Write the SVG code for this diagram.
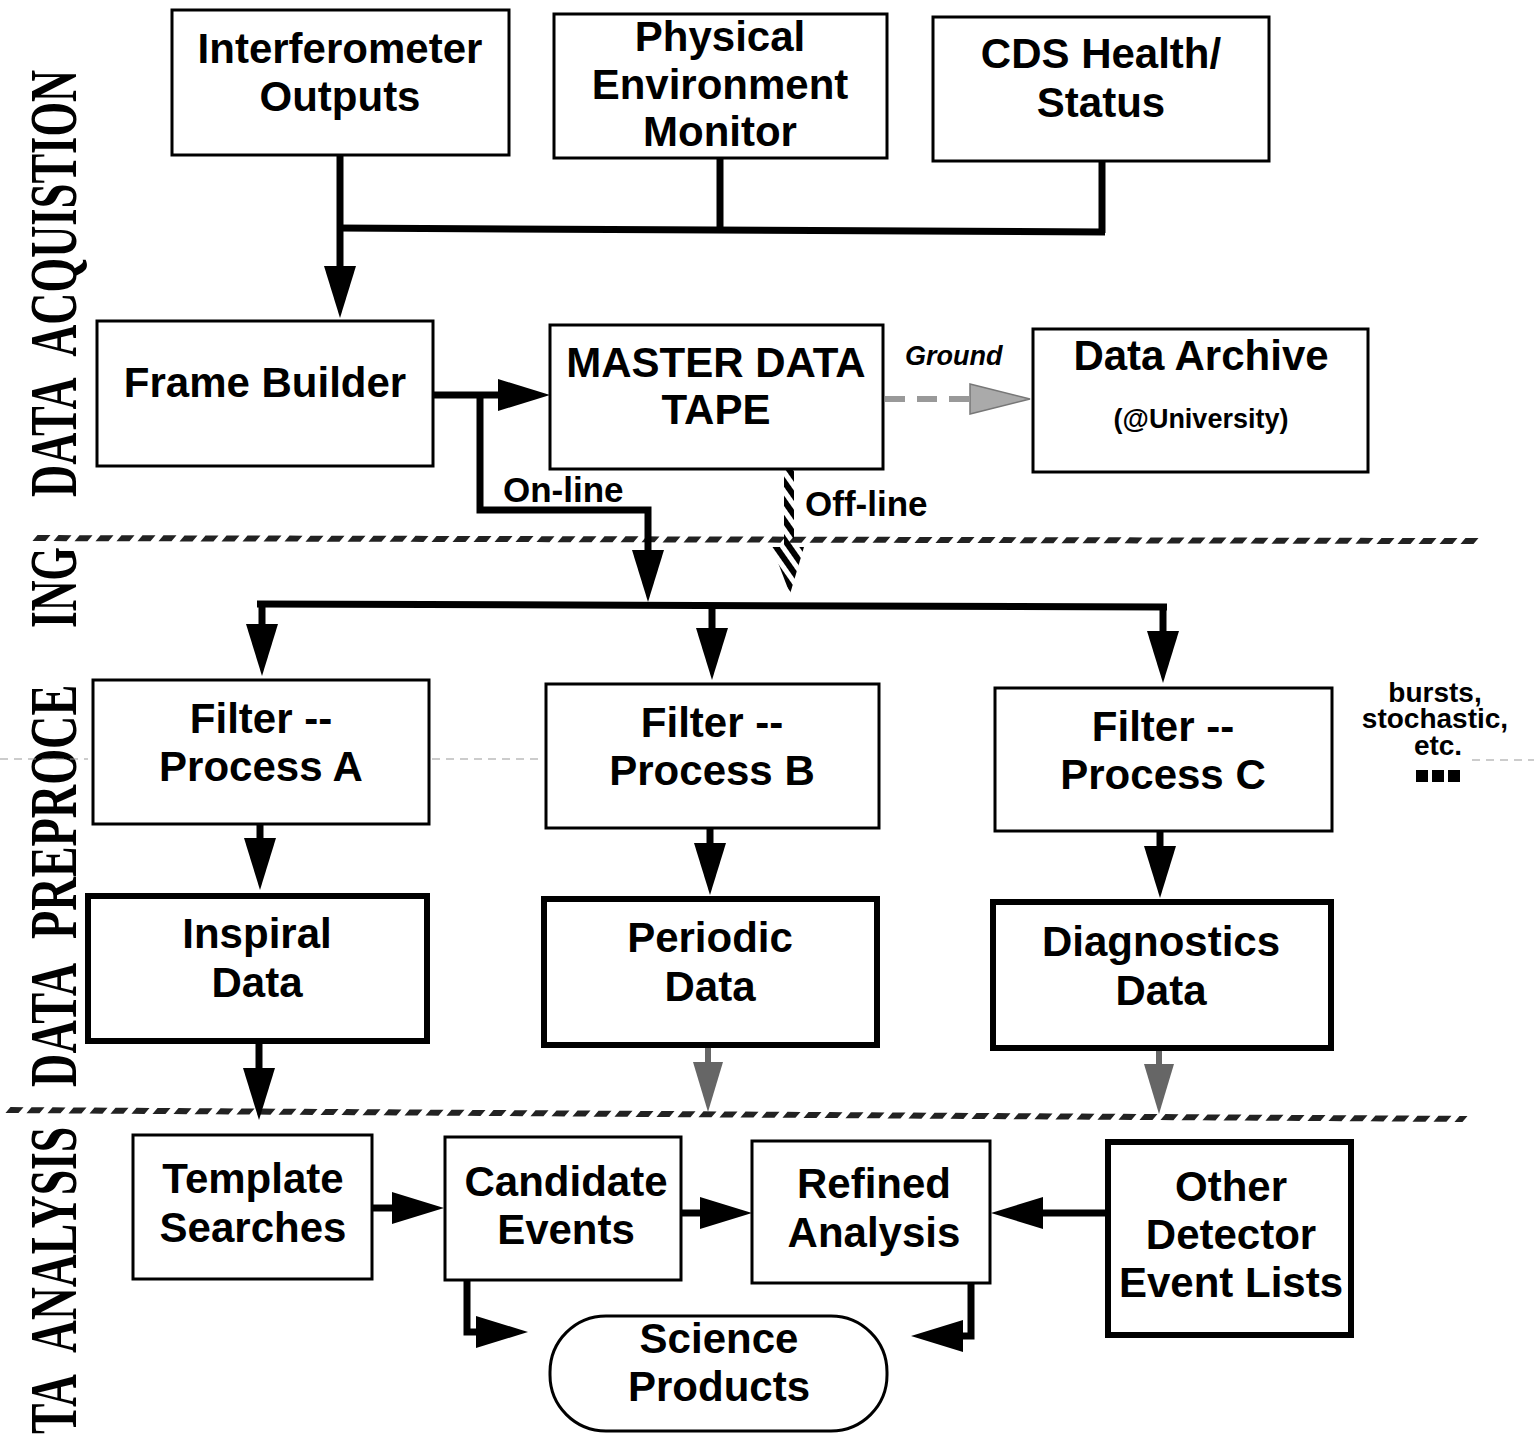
<svg xmlns="http://www.w3.org/2000/svg" width="1534" height="1434" viewBox="0 0 1534 1434">
  <style>
    .box { fill: #fff; stroke: #000; stroke-width: 3; }
    .thick { stroke-width: 6; }
    .lbl { font-family: "Liberation Sans", Arial, sans-serif; font-weight: bold; font-size: 42px; text-anchor: middle; fill: #000; }
    .small { font-family: "Liberation Sans", Arial, sans-serif; font-weight: bold; fill: #000; }
    .side { font-family: "Liberation Serif", "Times New Roman", serif; font-weight: bold; font-size: 68px; fill: #000; word-spacing: 22px; }
    .conn { fill: none; stroke: #000; stroke-width: 7; stroke-linejoin: miter; }
    .gconn { fill: none; stroke: #666; stroke-width: 6; }
    .sep { fill: none; stroke: #222; stroke-width: 6; stroke-dasharray: 13 8; }
    .fold { fill: none; stroke: #999; stroke-width: 1.2; stroke-dasharray: 8 6; }
  </style>
  <defs>
    <marker id="ah" markerUnits="userSpaceOnUse" markerWidth="52" markerHeight="34" refX="0" refY="16" orient="auto">
      <path d="M0,0 L52,16 L0,32 z" fill="#000"/>
    </marker>
    <marker id="ahg" markerUnits="userSpaceOnUse" markerWidth="50" markerHeight="32" refX="0" refY="15" orient="auto">
      <path d="M0,0 L50,15 L0,30 z" fill="#666"/>
    </marker>
    <pattern id="stripes" patternUnits="userSpaceOnUse" width="11" height="11" patternTransform="rotate(-35)">
      <rect x="0" y="0" width="6" height="11" fill="#000"/>
    </pattern>
    <clipPath id="clipPre">
      <rect x="0" y="676" width="100" height="420"/>
    </clipPath>
  </defs>

  <!-- section titles along the left margin -->
  <g id="section-titles">
    <text class="side" transform="translate(76,497) rotate(-90) scale(0.655,1)">DATA ACQUISTION</text>
    <text class="side" transform="translate(76,628) rotate(-90) scale(0.63,1)">ING</text>
    <g clip-path="url(#clipPre)">
      <text class="side" transform="translate(76,1087) rotate(-90) scale(0.68,1)">DATA PREPROCE</text>
    </g>
    <text class="side" transform="translate(76,1434) rotate(-90) scale(0.67,1)">TA ANALYSIS</text>
  </g>

  <!-- faint fold line across the preprocessing band -->
  <g id="fold-line">
    <line class="fold" x1="0" y1="759" x2="88" y2="759"/>
    <line class="fold" x1="100" y1="759" x2="158" y2="759"/>
    <line class="fold" x1="432" y1="759" x2="544" y2="759"/>
    <line class="fold" x1="836" y1="760" x2="876" y2="760"/>
    <line class="fold" x1="1472" y1="760" x2="1534" y2="760"/>
  </g>

  <!-- hatched section separators -->
  <g id="separators">
    <g transform="translate(0,538) rotate(0.12) skewX(-40)">
      <line class="sep" x1="35" y1="0" x2="1480" y2="0"/>
    </g>
    <g transform="translate(0,1110) rotate(0.35) skewX(-40)">
      <line class="sep" x1="8" y1="0" x2="1465" y2="0"/>
    </g>
  </g>

  <!-- connectors -->
  <g id="connectors">
    <path class="conn" d="M340,155 V266" marker-end="url(#ah)"/>
    <path class="conn" d="M720,158 V230"/>
    <path class="conn" d="M1102,161 V233"/>
    <path class="conn" d="M337,228 L1105,232"/>
    <path class="conn" d="M433,395 H498" marker-end="url(#ah)"/>
    <path class="conn" d="M480,395 V510 H648 V550" marker-end="url(#ah)"/>
    <path class="conn" d="M257,604 L1167,607"/>
    <path class="conn" d="M262,604 V624" marker-end="url(#ah)"/>
    <path class="conn" d="M712,606 V628" marker-end="url(#ah)"/>
    <path class="conn" d="M1163,607 V631" marker-end="url(#ah)"/>
    <path class="conn" d="M260,824 V838" marker-end="url(#ah)"/>
    <path class="conn" d="M710,828 V843" marker-end="url(#ah)"/>
    <path class="conn" d="M1160,832 V846" marker-end="url(#ah)"/>
    <path class="conn" d="M259,1041 V1068" marker-end="url(#ah)"/>
    <path class="gconn" d="M708,1045 V1062" marker-end="url(#ahg)"/>
    <path class="gconn" d="M1159,1048 V1064" marker-end="url(#ahg)"/>
    <path class="conn" d="M372,1208 H392" marker-end="url(#ah)"/>
    <path class="conn" d="M681,1213 H700" marker-end="url(#ah)"/>
    <path class="conn" d="M1107,1213 H1043" marker-end="url(#ah)"/>
    <path class="conn" d="M467,1280 V1332 H476" marker-end="url(#ah)"/>
    <path class="conn" d="M971,1283 V1336 H963" marker-end="url(#ah)"/>
    <!-- ground shipment to archive -->
    <path d="M885,399 H970" fill="none" stroke="#999" stroke-width="6" stroke-dasharray="20 12"/>
    <path d="M970,384 L1030,399 L970,414 z" fill="#aaa" stroke="#777" stroke-width="1.5"/>
    <!-- off-line tape path -->
    <rect x="784" y="470" width="10" height="77" fill="url(#stripes)"/>
    <path d="M772,547 L804,547 L790,594 z" fill="url(#stripes)"/>
  </g>

  <!-- connector labels -->
  <g id="connector-labels">
    <text class="small" x="503" y="502" font-size="35">On-line</text>
    <text class="small" x="805" y="516" font-size="35">Off-line</text>
    <text class="small" x="905" y="365" font-size="27" font-style="italic">Ground</text>
  </g>

  <!-- acquisition stage -->
  <g id="interferometer">
    <rect class="box" x="172" y="10" width="337" height="145"/>
    <text class="lbl" x="340" y="63">Interferometer</text>
    <text class="lbl" x="340" y="111">Outputs</text>
  </g>
  <g id="pem">
    <rect class="box" x="554" y="14" width="333" height="144"/>
    <text class="lbl" x="720" y="51">Physical</text>
    <text class="lbl" x="720" y="99">Environment</text>
    <text class="lbl" x="720" y="146">Monitor</text>
  </g>
  <g id="cds">
    <rect class="box" x="933" y="17" width="336" height="144"/>
    <text class="lbl" x="1101" y="68">CDS Health/</text>
    <text class="lbl" x="1101" y="117">Status</text>
  </g>
  <g id="frame-builder">
    <rect class="box" x="97" y="321" width="336" height="145"/>
    <text class="lbl" x="265" y="397">Frame Builder</text>
  </g>
  <g id="master-tape">
    <rect class="box" x="550" y="325" width="333" height="144"/>
    <text class="lbl" x="716" y="377">MASTER DATA</text>
    <text class="lbl" x="716" y="424">TAPE</text>
  </g>
  <g id="data-archive">
    <rect class="box" x="1033" y="329" width="335" height="143"/>
    <text class="lbl" x="1201" y="370">Data Archive</text>
    <text class="lbl" x="1201" y="428" style="font-size:27px">(@University)</text>
  </g>

  <!-- preprocessing stage -->
  <g id="filter-a">
    <rect class="box" x="93" y="680" width="336" height="144"/>
    <text class="lbl" x="261" y="733">Filter --</text>
    <text class="lbl" x="261" y="781">Process A</text>
  </g>
  <g id="filter-b">
    <rect class="box" x="546" y="684" width="333" height="144"/>
    <text class="lbl" x="712" y="737">Filter --</text>
    <text class="lbl" x="712" y="785">Process B</text>
  </g>
  <g id="filter-c">
    <rect class="box" x="995" y="688" width="337" height="143"/>
    <text class="lbl" x="1163" y="741">Filter --</text>
    <text class="lbl" x="1163" y="789">Process C</text>
  </g>
  <g id="more-filters">
    <text class="small" x="1435" y="702" font-size="28" text-anchor="middle">bursts,</text>
    <text class="small" x="1435" y="728" font-size="28" text-anchor="middle">stochastic,</text>
    <text class="small" x="1438" y="755" font-size="28" text-anchor="middle">etc.</text>
    <rect x="1416" y="770" width="12" height="12" fill="#000"/>
    <rect x="1432" y="770" width="12" height="12" fill="#000"/>
    <rect x="1448" y="770" width="12" height="12" fill="#000"/>
  </g>
  <g id="inspiral-data">
    <rect class="box thick" x="88" y="896" width="339" height="145"/>
    <text class="lbl" x="257" y="948">Inspiral</text>
    <text class="lbl" x="257" y="997">Data</text>
  </g>
  <g id="periodic-data">
    <rect class="box thick" x="544" y="899" width="333" height="146"/>
    <text class="lbl" x="710" y="952">Periodic</text>
    <text class="lbl" x="710" y="1001">Data</text>
  </g>
  <g id="diagnostics-data">
    <rect class="box thick" x="993" y="902" width="338" height="146"/>
    <text class="lbl" x="1161" y="956">Diagnostics</text>
    <text class="lbl" x="1161" y="1005">Data</text>
  </g>

  <!-- analysis stage -->
  <g id="template-searches">
    <rect class="box" x="133" y="1135" width="239" height="144"/>
    <text class="lbl" x="253" y="1193">Template</text>
    <text class="lbl" x="253" y="1242">Searches</text>
  </g>
  <g id="candidate-events">
    <rect class="box" x="445" y="1137" width="236" height="143"/>
    <text class="lbl" x="566" y="1196">Candidate</text>
    <text class="lbl" x="566" y="1244">Events</text>
  </g>
  <g id="refined-analysis">
    <rect class="box" x="752" y="1141" width="238" height="142"/>
    <text class="lbl" x="874" y="1198">Refined</text>
    <text class="lbl" x="874" y="1247">Analysis</text>
  </g>
  <g id="other-detector">
    <rect class="box thick" x="1108" y="1142" width="243" height="193"/>
    <text class="lbl" x="1231" y="1201">Other</text>
    <text class="lbl" x="1231" y="1249">Detector</text>
    <text class="lbl" x="1231" y="1297">Event Lists</text>
  </g>
  <g id="science-products">
    <rect class="box" x="550" y="1316" width="337" height="115" rx="56" ry="56"/>
    <text class="lbl" x="719" y="1353">Science</text>
    <text class="lbl" x="719" y="1401">Products</text>
  </g>
</svg>
